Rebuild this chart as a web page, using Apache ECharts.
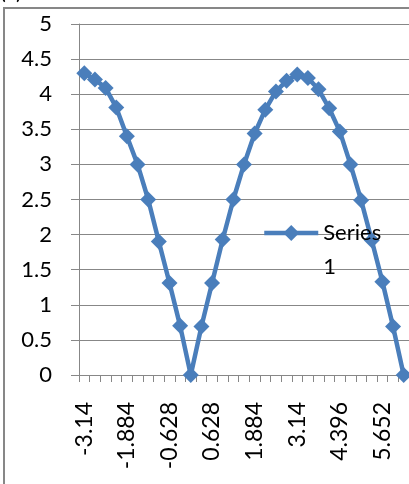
<!DOCTYPE html>
<html>
<head>
<meta charset="utf-8">
<script src="https://cdn.jsdelivr.net/npm/echarts@6/dist/echarts.min.js"></script>
<style>
  html, body { margin: 0; padding: 0; background: #ffffff; }
  #chart { width: 409px; height: 484px; }
</style>
</head>
<body>
<div id="chart"></div>
<script>
// x categories (step 0.314 from -3.14 to 6.28)
const categories = [
  '-3.14', '-2.826', '-2.512', '-2.198', '-1.884', '-1.57', '-1.256', '-0.942',
  '-0.628', '-0.314', '0', '0.314', '0.628', '0.942', '1.256', '1.57',
  '1.884', '2.198', '2.512', '2.826', '3.14', '3.454', '3.768', '4.082',
  '4.396', '4.71', '5.024', '5.338', '5.652', '5.966', '6.28'
];

// Series 1 values
const series1 = [
  4.30, 4.21, 4.09, 3.81, 3.40, 3.00, 2.50, 1.90,
  1.31, 0.70, 0.00, 0.69, 1.31, 1.93, 2.50, 3.00,
  3.44, 3.78, 4.04, 4.19, 4.28, 4.23, 4.07, 3.80,
  3.47, 3.00, 2.49, 1.92, 1.33, 0.69, 0.00
];

const yTicks = { min: 0, max: 5, interval: 0.5 };

const FONT = 'Lato';
const BLUE = '#4a7ebb';
const GRAY = '#878787';

const chart = echarts.init(document.getElementById('chart'), null, { renderer: 'canvas' });

chart.setOption({
  animation: false,
  backgroundColor: '#ffffff',
  textStyle: { fontFamily: FONT },
  grid: { left: 79, top: 24, right: -3, bottom: 109, containLabel: false },
  graphic: [
    {
      type: 'rect',
      shape: { x: 4, y: 8, width: 420, height: 490 },
      style: { fill: 'none', stroke: GRAY, lineWidth: 2 },
      z: -1
    },
    {
      type: 'text',
      left: 0, top: -19,
      style: { text: '(a)', font: '22px Lato', fill: '#000' }
    }
  ],
  legend: {
    left: 262,
    top: 182,
    padding: 0,
    itemWidth: 54,
    itemHeight: 20,
    itemGap: 0,
    lineStyle: { width: 4.5 },
    // blank first line keeps "Series" level with the legend icon, "1" wraps below
    formatter: () => '\nSeries\n1',
    textStyle: {
      fontFamily: FONT, fontSize: 22, color: '#000',
      lineHeight: 34
    },
    data: ['Series 1']
  },
  xAxis: {
    type: 'category',
    data: categories,
    boundaryGap: true,
    axisLine: { lineStyle: { color: GRAY, width: 1 } },
    axisTick: { show: true, interval: 0, length: 7, lineStyle: { color: GRAY } },
    axisLabel: {
      interval: 3, rotate: 90, margin: 27,
      fontFamily: FONT, fontSize: 23, color: '#000'
    },
    splitLine: { show: false }
  },
  yAxis: {
    type: 'value',
    min: yTicks.min, max: yTicks.max, interval: yTicks.interval,
    axisLine: { show: true, lineStyle: { color: GRAY, width: 1 } },
    axisTick: { show: true, length: 8, lineStyle: { color: GRAY } },
    axisLabel: {
      margin: 27, fontFamily: FONT, fontSize: 22, color: '#000',
      formatter: v => String(v)
    },
    splitLine: { show: true, lineStyle: { color: GRAY, width: 1 } }
  },
  series: [{
    name: 'Series 1',
    type: 'line',
    data: series1,
    symbol: 'diamond',
    symbolSize: 16,
    showSymbol: true,
    showAllSymbol: true,
    lineStyle: { color: BLUE, width: 4.5 },
    itemStyle: { color: BLUE },
    z: 3
  }]
});
</script>
</body>
</html>
